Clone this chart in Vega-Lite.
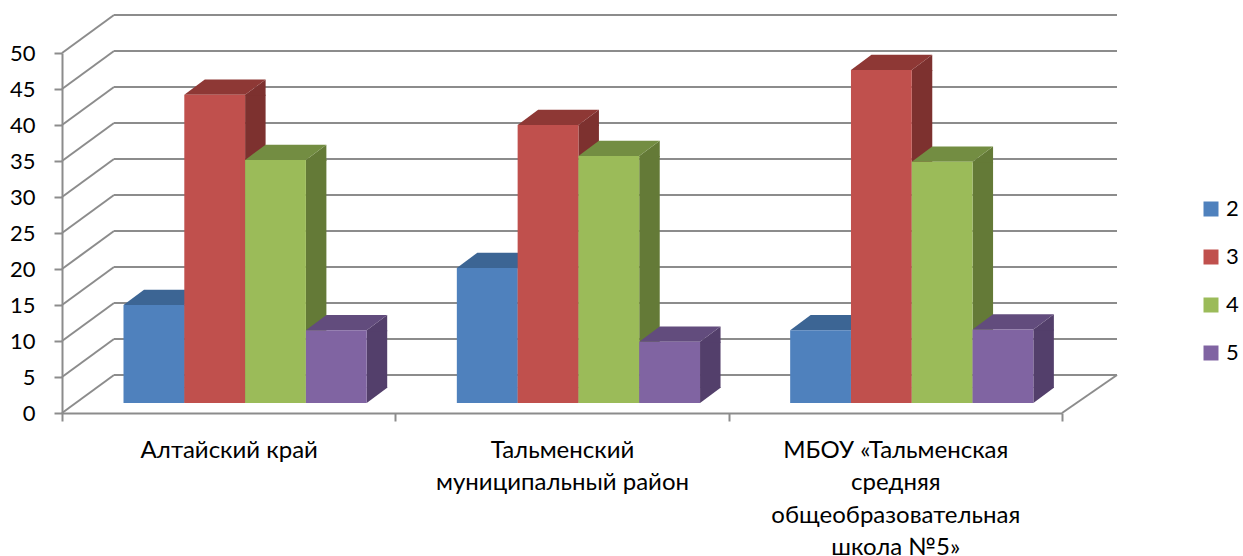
{
"$schema":"https://vega.github.io/schema/vega-lite/v6.json",
"width":1000,"height":360,
"autosize":{"type":"none"},
"padding":{"left":62,"top":53,"right":181,"bottom":143},
"background":"white",
"config":{"view":{"stroke":null},"font":"Lato","axisY":{"tickCount":11,"values":[0,5,10,15,20,25,30,35,40,45,50],"labelOverlap":false}},
"datasets":{
"bars":[
{"category":"Алтайский край","series":"2","value":13.6},
{"category":"Алтайский край","series":"3","value":42.8},
{"category":"Алтайский край","series":"4","value":33.75},
{"category":"Алтайский край","series":"5","value":10.1},
{"category":"Тальменский\nмуниципальный район","series":"2","value":18.75},
{"category":"Тальменский\nмуниципальный район","series":"3","value":38.6},
{"category":"Тальменский\nмуниципальный район","series":"4","value":34.3},
{"category":"Тальменский\nмуниципальный район","series":"5","value":8.5},
{"category":"МБОУ «Тальменская\nсредняя\nобщеобразовательная\nшкола №5»","series":"2","value":10.1},
{"category":"МБОУ «Тальменская\nсредняя\nобщеобразовательная\nшкола №5»","series":"3","value":46.25},
{"category":"МБОУ «Тальменская\nсредняя\nобщеобразовательная\nшкола №5»","series":"4","value":33.5},
{"category":"МБОУ «Тальменская\nсредняя\nобщеобразовательная\nшкола №5»","series":"5","value":10.2}
],
"ticks":[{"v":0},{"v":5},{"v":10},{"v":15},{"v":20},{"v":25},{"v":30},{"v":35},{"v":40},{"v":45},{"v":50}],
"floor":[{"v":0}]
},
"layer":[
{"data":{"name":"ticks"},
 "mark":{"type":"rule","stroke":"#8c8c8c","strokeWidth":2,"xOffset":52,"yOffset":-38},
 "encoding":{"x":{"value":0},"x2":{"value":1055},"y":{"field":"v","type":"quantitative","title":null,"scale":{"domain":[0,50],"nice":false},
   "axis":{"values":[0,5,10,15,20,25,30,35,40,45,50],"tickCount":11,"labelOverlap":false,"grid":false,"tickSize":8,"tickColor":"#8c8c8c","tickWidth":2,"domainColor":"#8c8c8c","domainWidth":2,"labelFontSize":22,"labelColor":"#000","labelPadding":19}}}},
{"data":{"name":"ticks"},
 "mark":{"type":"point","shape":"M0,0L52,-38","size":4,"filled":false,"opacity":1,"stroke":"#8c8c8c","strokeWidth":2},
 "encoding":{"x":{"value":0},"y":{"field":"v","type":"quantitative","title":null}}},
{"data":{"name":"floor"},
 "mark":{"type":"point","shape":"M0,0L55,-38","size":4,"filled":false,"opacity":1,"stroke":"#8c8c8c","strokeWidth":2},
 "encoding":{"x":{"value":1000},"y":{"field":"v","type":"quantitative","title":null}}},
{"data":{"name":"bars"},
 "mark":{"type":"bar","width":20.5,"yOffset":-10,"y2Offset":-10},
 "encoding":{
  "x":{"field":"category","type":"nominal","sort":null,"title":null,"scale":{"paddingInner":0,"paddingOuter":0},
   "axis":{"labelAngle":0,"labelAlign":"center","labelBaseline":"top","tickBand":"extent","tickSize":8,"tickColor":"#8c8c8c","tickWidth":2,"domainColor":"#8c8c8c","domainWidth":2,"labelFontSize":24,"labelColor":"#000","labelPadding":17,"labelLineHeight":32.5,"labelLimit":400,"labelExpr":"split(datum.label,'\\n')"}},
  "xOffset":{"field":"series","type":"nominal","scale":{"range":[102.15,345.35]}},
  "y":{"field":"value","type":"quantitative","stack":null,"title":null},
  "y2":{"datum":2.125},
  "color":{"field":"series","type":"nominal","legend":null,"scale":{"domain":["2","3","4","5"],"range":["#385D8A","#7D312F","#647A37","#533F6B"]}}}},
{"data":{"name":"bars"},
 "mark":{"type":"point","shape":"M30.4,0L50.9,-15.3L50.9,1L30.4,1Z","size":4,"filled":true,"opacity":1,"yOffset":-10},
 "encoding":{
  "x":{"field":"category","type":"nominal","sort":null,"title":null},
  "xOffset":{"field":"series","type":"nominal","scale":{"range":[61.5,304.7]}},
  "y":{"field":"value","type":"quantitative","title":null},
  "color":{"field":"series","type":"nominal","legend":null,"scale":{"domain":["2","3","4","5"],"range":["#385D8A","#7D312F","#647A37","#533F6B"]}}}},
{"data":{"name":"bars"},
 "mark":{"type":"point","shape":"M30.4,0L50.9,-15.3L50.9,-16L30.4,-16Z","size":4,"filled":true,"opacity":1,"yOffset":-10},
 "encoding":{
  "x":{"field":"category","type":"nominal","sort":null,"title":null},
  "xOffset":{"field":"series","type":"nominal","scale":{"range":[61.5,304.7]}},
  "y":{"datum":0,"title":null},
  "color":{"field":"series","type":"nominal","legend":null,"scale":{"domain":["2","3","4","5"],"range":["#385D8A","#7D312F","#647A37","#533F6B"]}}}},
{"data":{"name":"bars"},
 "mark":{"type":"point","shape":"M-30.4,0L30.4,0L50.9,-15.3L-9.9,-15.3Z","size":4,"filled":true,"opacity":1,"yOffset":-10},
 "encoding":{
  "x":{"field":"category","type":"nominal","sort":null,"title":null},
  "xOffset":{"field":"series","type":"nominal","scale":{"range":[61.5,304.7]}},
  "y":{"field":"value","type":"quantitative","title":null},
  "color":{"field":"series","type":"nominal","legend":null,"scale":{"domain":["2","3","4","5"],"range":["#3C6594","#8E3835","#738D42","#624C7D"]}}}},
{"data":{"name":"bars"},
 "mark":{"type":"bar","yOffset":-10,"y2Offset":-10},
 "encoding":{
  "x":{"field":"category","type":"nominal","sort":null,"title":null},
  "xOffset":{"field":"series","type":"nominal","scale":{"range":[61.5,304.7]}},
  "y":{"field":"value","type":"quantitative","stack":null,"title":null},
  "y2":{"datum":0},
  "color":{"field":"series","type":"nominal","title":null,"scale":{"domain":["2","3","4","5"],"range":["#4F81BD","#C0504D","#9BBB59","#8064A2"]},
   "legend":{"orient":"none","legendX":1138,"legendY":145,"symbolType":"square","symbolSize":225,"symbolStrokeWidth":0,"labelFontSize":22,"labelColor":"#000","rowPadding":26,"labelOffset":4}}}}
],
"resolve":{"scale":{"color":"independent","xOffset":"independent"}}
}
